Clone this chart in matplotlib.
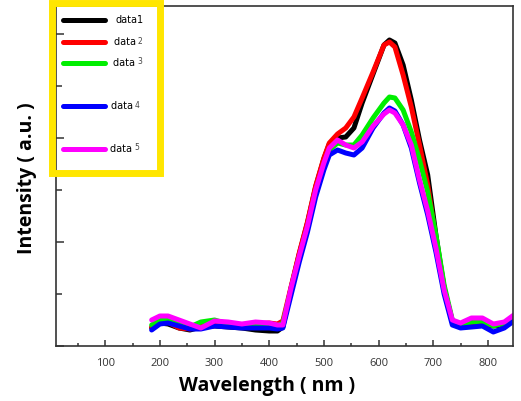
import matplotlib
matplotlib.use("Agg")
import matplotlib.pyplot as plt
from matplotlib.lines import Line2D
from matplotlib.patches import Rectangle
from matplotlib.ticker import MultipleLocator

# wavelength grid (nm) shared by all five spectra
wavelength = [185, 200, 215, 235, 255, 275, 300, 325, 350, 375, 400, 415, 425,
              440, 455, 470, 485, 500, 510, 525, 540, 555, 570, 590, 610, 620,
              630, 645, 660, 675, 690, 705, 720, 735, 750, 770, 790, 810, 830, 850]

# intensities (a.u.)
data1 = [18, 23, 22, 18, 16, 19, 20, 19, 18, 16, 15, 15, 19,
         58, 92, 123, 159, 187, 202, 208, 209, 218, 243, 272, 301, 306,
         303, 281, 246, 206, 171, 111, 58, 24, 21, 23, 21, 20, 21, 28]
data2 = [19, 24, 24, 18, 17, 21, 24, 22, 21, 22, 23, 22, 25,
         59, 93, 124, 160, 188, 203, 212, 218, 229, 248, 274, 301, 304,
         299, 271, 239, 201, 161, 106, 58, 24, 20, 23, 22, 21, 22, 28]
data3 = [21, 26, 27, 22, 19, 24, 26, 22, 20, 20, 21, 20, 23,
         56, 88, 118, 153, 180, 196, 203, 201, 201, 211, 228, 243, 249,
         248, 236, 214, 186, 154, 111, 61, 26, 21, 24, 25, 20, 23, 30]
data4 = [16, 22, 23, 20, 17, 17, 20, 19, 18, 18, 18, 17, 18,
         51, 84, 114, 149, 176, 191, 196, 193, 191, 198, 218, 233, 238,
         235, 221, 198, 163, 131, 94, 52, 21, 18, 19, 20, 14, 18, 26]
data5 = [26, 30, 30, 26, 22, 18, 25, 24, 22, 24, 23, 21, 21,
         58, 90, 120, 156, 183, 198, 206, 201, 198, 204, 220, 232, 236,
         233, 221, 201, 166, 135, 98, 56, 26, 23, 28, 28, 22, 24, 32]

series = [data1, data2, data3, data4, data5]
names = ["data1", "data ", "data ", "data ", "data "]
digits = ["", "2", "3", "4", "5"]
colors = ["#000000", "#ff0000", "#00ee00", "#0000ff", "#ff00ff"]

W, H = 521, 401
fig = plt.figure(figsize=(W / 100, H / 100), dpi=100)
ax = fig.add_axes([56 / W, (H - 346) / H, (513 - 56) / W, (346 - 6) / H])

for ys, c in zip(series, colors):
    ax.plot(wavelength, ys, color=c, lw=3.6, solid_capstyle="round",
            solid_joinstyle="round")

ax.set_xlim(10, 846)
ax.set_ylim(0, 340)
ax.xaxis.set_major_locator(MultipleLocator(100))
ax.xaxis.set_minor_locator(MultipleLocator(50))
ax.yaxis.set_major_locator(MultipleLocator(104))
ax.yaxis.set_minor_locator(MultipleLocator(52))
ax.set_xticks([100, 200, 300, 400, 500, 600, 700, 800])
ax.tick_params(axis="x", which="major", direction="in", length=4, width=1.1,
               labelsize=8, labelcolor="#333333", pad=9, colors="#333333")
ax.tick_params(axis="x", which="minor", direction="in", length=2.5, width=1.1,
               colors="#333333")
ax.tick_params(axis="y", which="major", direction="in", length=5.5, width=1.1,
               labelleft=False, colors="#333333")
ax.tick_params(axis="y", which="minor", direction="in", length=4, width=1.1,
               colors="#333333")
for s in ax.spines.values():
    s.set_linewidth(1.2)
    s.set_color("#333333")
for lab in ax.get_xticklabels():
    lab.set_family("Open Sans")

fig.text(267 / W, 1 - 386 / H, "Wavelength ( nm )", ha="center", va="center",
         fontsize=14, fontweight="bold", family="Open Sans")
fig.text(27 / W, 1 - 178 / H, "Intensity ( a.u. )", ha="center", va="center",
         rotation=90, fontsize=14, fontweight="bold", family="Open Sans")

# hand-placed legend inside a yellow frame
fig.patches.append(Rectangle((51.5 / W, 1 - 172.5 / H), 108.5 / W, 169.5 / H,
                             transform=fig.transFigure, fill=False,
                             edgecolor="#ffe600", lw=5.0, zorder=5))
leg_y = [20, 42, 63, 106, 149]
text_x = [115, 114, 113, 111, 110]
for yy, tx, c, nm, dg in zip(leg_y, text_x, colors, names, digits):
    fig.add_artist(Line2D([63 / W, 105 / W], [1 - yy / H, 1 - yy / H],
                          transform=fig.transFigure, color=c, lw=3.6,
                          solid_capstyle="round", zorder=6))
    t = fig.text(tx / W, 1 - yy / H, nm, ha="left", va="center", fontsize=7,
                 family="DejaVu Sans", zorder=7)
    if dg:
        fig.text((tx + 24) / W, 1 - (yy - 1) / H, dg, ha="left", va="center",
                 fontsize=5.5, color="#444444", family="DejaVu Sans", zorder=7)

fig.savefig("out.png", dpi=100)
